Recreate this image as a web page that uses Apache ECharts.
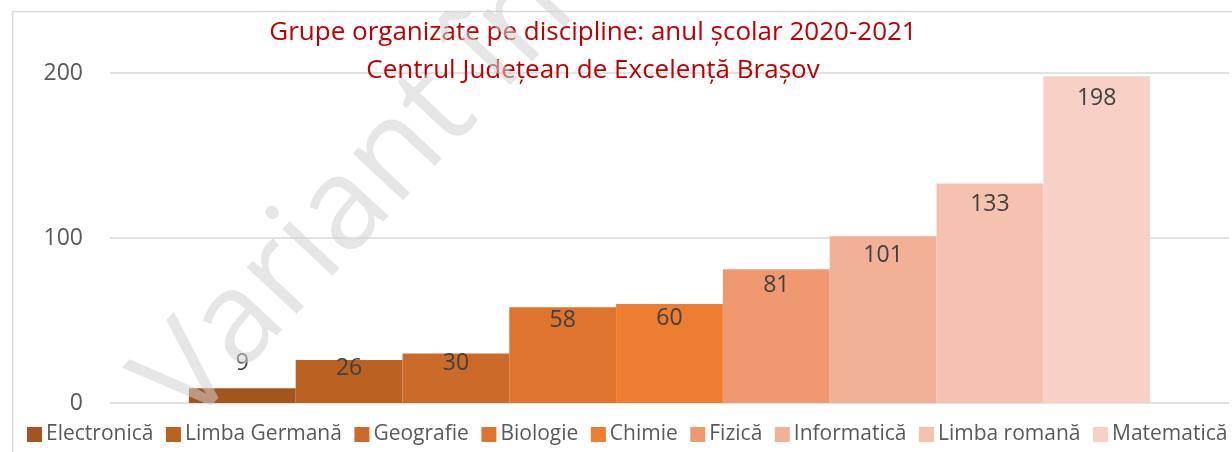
<!DOCTYPE html>
<html>
<head>
<meta charset="utf-8">
<script src="https://cdn.jsdelivr.net/npm/echarts@6/dist/echarts.min.js"></script>
<style>
  html, body { margin: 0; padding: 0; background: #fff; }
  #chart { width: 1232px; height: 452px; }
</style>
</head>
<body>
<div id="chart"></div>
<script>
  // one bar per discipline, all in a single category
  const disciplines = ['Electronică', 'Limba Germană', 'Geografie', 'Biologie', 'Chimie', 'Fizică', 'Informatică', 'Limba romană', 'Matematică'];
  const groups = [9, 26, 30, 58, 60, 81, 101, 133, 198];
  const colors = ['#a5531f', '#bb6122', '#cc6a2a', '#de742e', '#ed7d31', '#f09870', '#f2b097', '#f5c2af', '#f7d1c5'];
  const yTicks = [0, 100, 200];
  // label distance from bar top (px), as placed in the original
  const labelGap = [13, -3, -2, 2, 3, 5, 8, 9, 11];

  const chart = echarts.init(document.getElementById('chart'));
  const font = '"Open Sans", "Noto Sans", sans-serif';

  let series = disciplines.map((name, i) => ({
    name: name,
    type: 'bar',
    data: [groups[i]],
    barWidth: 106.8,
    barGap: '0%',
    itemStyle: { color: colors[i] },
    label: {
      show: true,
      position: i === 0 ? 'top' : 'insideTop',
      distance: labelGap[i],
      color: '#404040',
      fontSize: 23,
      fontFamily: font
    }
  }));

  let option = {
    animation: false,
    title: {
      text: 'Grupe organizate pe discipline: anul școlar 2020-2021\nCentrul Județean de Excelență Brașov',
      left: 588, top: 9, textAlign: 'center',
      textStyle: { color: '#c00000', fontSize: 26, lineHeight: 38, fontWeight: 'normal', fontFamily: font }
    },
    legend: {
      data: disciplines,
      left: 27,
      top: 424,
      width: 1215,
      padding: 0,
      itemWidth: 15,
      itemHeight: 15,
      itemGap: 12.5,
      icon: 'rect',
      textStyle: { color: '#595959', fontSize: 21, fontFamily: font, padding: [0, 0, 0, -1] }
    },
    grid: { left: 110, right: 3, top: 73, bottom: 49 },
    xAxis: {
      type: 'category',
      data: [''],
      axisLine: { show: false },
      axisTick: { show: false },
      axisLabel: { show: false }
    },
    yAxis: {
      type: 'value',
      min: yTicks[0],
      max: yTicks[yTicks.length - 1],
      interval: 100,
      axisLine: { show: false },
      axisTick: { show: false },
      axisLabel: { color: '#595959', fontSize: 23, fontFamily: font, margin: 27 },
      splitLine: { lineStyle: { color: '#d9d9d9', width: 1.5 } }
    },
    graphic: [
      {
        type: 'rect',
        left: 10, top: 9,
        shape: { width: 1300, height: 500 },
        style: { fill: 'none', stroke: '#d9d9d9', lineWidth: 1.5 },
        silent: true
      },
      {
        // watermark
        type: 'text',
        x: 162, y: 405,
        rotation: 47 * Math.PI / 180,
        z: 100,
        silent: true,
        style: {
          text: 'Variant în',
          fontSize: 128,
          fontFamily: font,
          fill: 'rgba(210,210,210,0.55)',
          textAlign: 'left',
          textVerticalAlign: 'middle'
        }
      }
    ],
    series: series
  };
  chart.setOption(option);
</script>
</body>
</html>
